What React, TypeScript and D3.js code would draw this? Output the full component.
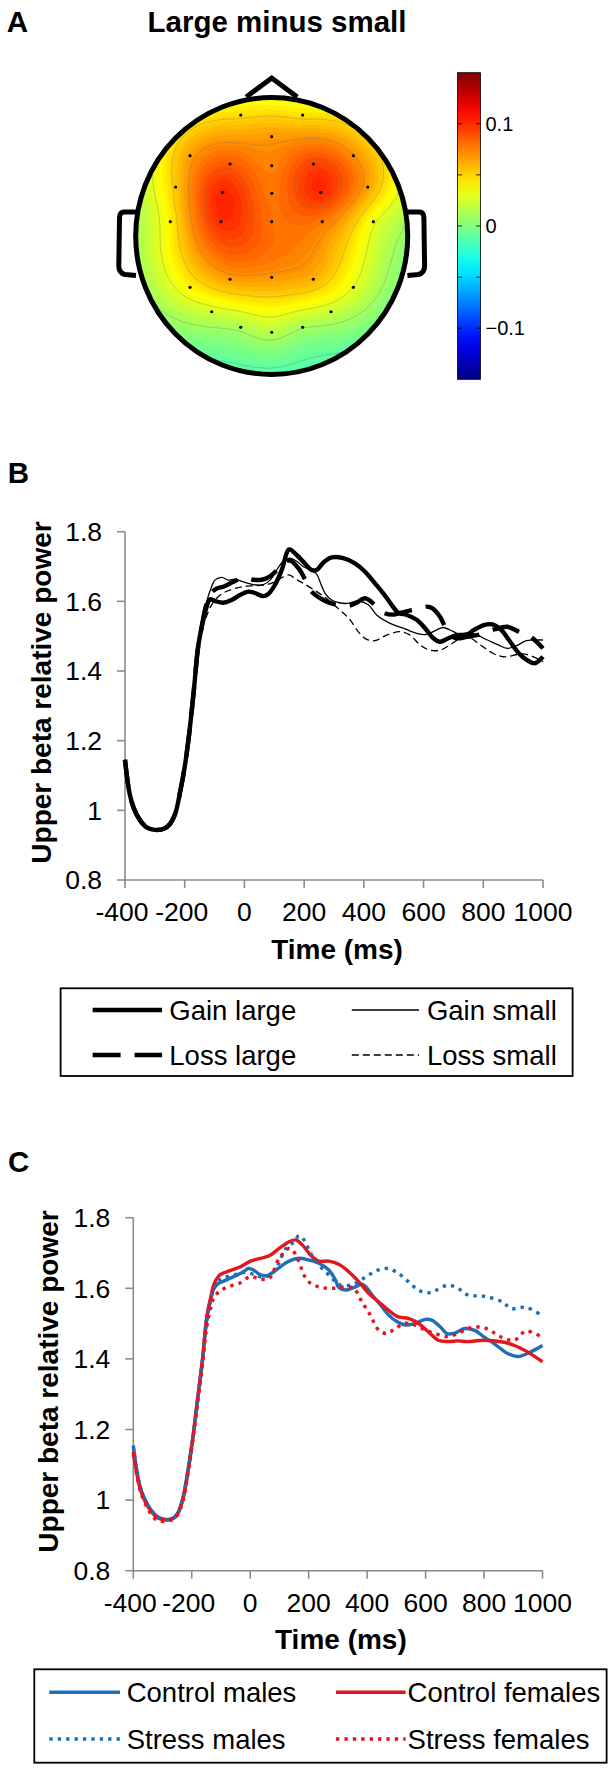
import React, { useMemo } from 'react';
import * as d3 from 'd3';

const FONT = "'Liberation Sans', Arial, Helvetica, sans-serif";

// ---------------- Panel A: topographic map data ----------------
// electrode positions in normalised head coordinates (x: left→right, y: front→back)
const elecNX = [-0.226, 0.226, 0, -0.596, 0.596, -0.304, 0, 0.304, -0.701, -0.358, 0, 0.358, 0.701,
  -0.74, -0.37, 0, 0.369, 0.742, -0.304, 0, 0.304, -0.596, 0.596, -0.438, 0.433, -0.226, 0, 0.226];
const elecNY = [-0.867, -0.867, -0.712, -0.576, -0.576, -0.516, -0.504, -0.516, -0.351, -0.313, -0.306, -0.313, -0.351,
  -0.103, -0.103, -0.103, -0.103, -0.103, 0.31, 0.296, 0.31, 0.368, 0.368, 0.543, 0.543, 0.654, 0.69, 0.654];
const elecVal = [0.046, 0.045, 0.066, 0.064, 0.07, 0.085, 0.074, 0.092, 0.052, 0.101, 0.078, 0.101, 0.066,
  0.04, 0.099, 0.08, 0.078, 0.034, 0.066, 0.068, 0.061, 0.04, 0.031, 0.025, 0.023, 0.014, 0.018, 0.012];
const cbarDomain = [-0.15, 0.15];
const cbarTicks = [0.1, 0, -0.1];
const cbarMinorTicks = [0.1, 0.05, 0, -0.05, -0.1];
const isoLevels = [-0.01, 0.01, 0.03, 0.05, 0.07, 0.09];

// ---------------- Panel B: reward magnitude ----------------
const gainLarge: [number, number][] = [[-400, 1.145], [-385, 1.05], [-370, 1.005], [-350, 0.972], [-325, 0.95], [-300, 0.944], [-270, 0.947], [-250, 0.96], [-232, 0.99], [-216, 1.05], [-200, 1.125], [-185, 1.22], [-170, 1.34], [-155, 1.47], [-143, 1.527], [-128, 1.58], [-115, 1.606], [-98, 1.601], [-71, 1.596], [-43, 1.604], [-15, 1.618], [13, 1.628], [35, 1.624], [63, 1.615], [80, 1.621], [102, 1.647], [125, 1.69], [150, 1.749], [175, 1.733], [197, 1.714], [225, 1.69], [242, 1.69], [264, 1.711], [292, 1.726], [331, 1.724], [370, 1.709], [404, 1.685], [437, 1.652], [465, 1.623], [493, 1.59], [515, 1.567], [544, 1.561], [577, 1.547], [605, 1.523], [633, 1.494], [655, 1.484], [683, 1.494], [711, 1.503], [745, 1.505], [769, 1.518], [802, 1.532], [830, 1.534], [860, 1.518], [886, 1.489], [919, 1.451], [945, 1.432], [971, 1.422], [1000, 1.441]];
const gainSmall: [number, number][] = [[-400, 1.145], [-385, 1.05], [-370, 1.005], [-350, 0.972], [-325, 0.95], [-300, 0.944], [-270, 0.947], [-250, 0.96], [-232, 0.99], [-216, 1.05], [-200, 1.125], [-185, 1.22], [-170, 1.34], [-155, 1.47], [-143, 1.53], [-128, 1.595], [-110, 1.642], [-99, 1.661], [-76, 1.669], [-54, 1.661], [-32, 1.664], [-4, 1.656], [30, 1.648], [63, 1.648], [86, 1.661], [108, 1.69], [130, 1.715], [153, 1.724], [175, 1.715], [197, 1.7], [225, 1.688], [242, 1.678], [256, 1.65], [270, 1.623], [292, 1.604], [318, 1.596], [343, 1.594], [382, 1.601], [415, 1.59], [443, 1.561], [488, 1.537], [532, 1.523], [577, 1.508], [611, 1.505], [644, 1.518], [666, 1.525], [700, 1.513], [728, 1.503], [762, 1.508], [814, 1.489], [850, 1.475], [880, 1.465], [910, 1.472], [945, 1.487], [1000, 1.489]];
const lossLarge: [number, number][] = [[-400, 1.145], [-385, 1.05], [-370, 1.005], [-350, 0.972], [-325, 0.95], [-300, 0.944], [-270, 0.947], [-250, 0.96], [-232, 0.99], [-216, 1.05], [-200, 1.125], [-185, 1.22], [-170, 1.34], [-155, 1.47], [-143, 1.527], [-128, 1.59], [-110, 1.625], [-90, 1.638], [-71, 1.642], [-37, 1.656], [-4, 1.668], [30, 1.662], [57, 1.662], [86, 1.672], [122, 1.7], [150, 1.718], [181, 1.695], [205, 1.66], [225, 1.628], [264, 1.604], [300, 1.592], [348, 1.587], [375, 1.596], [404, 1.609], [440, 1.588], [471, 1.566], [500, 1.562], [521, 1.567], [560, 1.575], [611, 1.585], [630, 1.58], [655, 1.556], [684, 1.508], [711, 1.494], [745, 1.498], [790, 1.505], [840, 1.52], [880, 1.527], [919, 1.513], [958, 1.499], [1000, 1.465]];
const lossSmall: [number, number][] = [[-400, 1.145], [-385, 1.05], [-370, 1.005], [-350, 0.972], [-325, 0.95], [-300, 0.944], [-270, 0.947], [-250, 0.96], [-232, 0.99], [-216, 1.05], [-200, 1.125], [-185, 1.22], [-170, 1.34], [-155, 1.46], [-143, 1.52], [-128, 1.555], [-113, 1.585], [-93, 1.609], [-73, 1.623], [-40, 1.635], [-8, 1.642], [30, 1.645], [70, 1.647], [100, 1.655], [125, 1.668], [149, 1.676], [175, 1.662], [197, 1.652], [242, 1.628], [281, 1.604], [320, 1.575], [354, 1.547], [381, 1.513], [410, 1.491], [437, 1.487], [476, 1.503], [521, 1.513], [555, 1.503], [588, 1.475], [621, 1.46], [655, 1.46], [688, 1.475], [716, 1.49], [749, 1.497], [790, 1.475], [830, 1.452], [867, 1.441], [932, 1.449], [970, 1.44], [1000, 1.427]];

// ---------------- Panel C: stress x sex ----------------
const controlMales: [number, number][] = [[-400, 1.155], [-379, 1.045], [-362, 1.005], [-339, 0.972], [-317, 0.953], [-294, 0.946], [-266, 0.948], [-249, 0.962], [-231, 1.005], [-214, 1.08], [-197, 1.175], [-180, 1.288], [-163, 1.401], [-149, 1.515], [-135, 1.571], [-124, 1.6], [-107, 1.615], [-95, 1.619], [-57, 1.633], [-23, 1.647], [-6, 1.656], [11, 1.652], [35, 1.638], [58, 1.636], [81, 1.647], [103, 1.661], [133, 1.677], [167, 1.685], [201, 1.68], [235, 1.671], [269, 1.652], [292, 1.623], [303, 1.602], [326, 1.595], [360, 1.604], [380, 1.612], [394, 1.606], [417, 1.581], [446, 1.553], [474, 1.524], [503, 1.505], [531, 1.496], [565, 1.501], [599, 1.512], [621, 1.51], [650, 1.491], [673, 1.472], [696, 1.472], [735, 1.486], [770, 1.48], [797, 1.464], [840, 1.44], [877, 1.417], [917, 1.407], [957, 1.419], [1000, 1.438]];
const controlFemales: [number, number][] = [[-400, 1.137], [-379, 1.04], [-362, 1.0], [-339, 0.968], [-317, 0.95], [-294, 0.944], [-266, 0.947], [-249, 0.96], [-231, 1.0], [-214, 1.075], [-197, 1.17], [-180, 1.285], [-163, 1.4], [-149, 1.515], [-135, 1.575], [-124, 1.612], [-107, 1.636], [-95, 1.642], [-67, 1.651], [-33, 1.661], [1, 1.677], [35, 1.685], [65, 1.692], [99, 1.713], [133, 1.732], [156, 1.737], [178, 1.723], [212, 1.689], [235, 1.677], [269, 1.677], [303, 1.668], [337, 1.647], [371, 1.619], [405, 1.586], [439, 1.562], [473, 1.538], [507, 1.519], [541, 1.515], [575, 1.501], [609, 1.477], [643, 1.453], [677, 1.449], [711, 1.451], [745, 1.449], [797, 1.453], [864, 1.448], [904, 1.438], [944, 1.422], [1000, 1.392]];
const stressMales: [number, number][] = [[-400, 1.15], [-379, 1.045], [-362, 1.003], [-339, 0.97], [-317, 0.952], [-294, 0.945], [-266, 0.947], [-249, 0.96], [-231, 1.0], [-214, 1.075], [-197, 1.17], [-180, 1.28], [-163, 1.395], [-149, 1.505], [-135, 1.565], [-124, 1.6], [-107, 1.622], [-90, 1.63], [-57, 1.638], [-23, 1.645], [11, 1.64], [46, 1.63], [65, 1.637], [81, 1.647], [100, 1.675], [122, 1.713], [150, 1.732], [167, 1.749], [184, 1.737], [207, 1.699], [235, 1.666], [264, 1.642], [286, 1.623], [309, 1.609], [343, 1.609], [371, 1.619], [405, 1.638], [439, 1.652], [473, 1.656], [507, 1.642], [541, 1.619], [575, 1.595], [609, 1.587], [637, 1.595], [677, 1.609], [711, 1.6], [745, 1.581], [804, 1.577], [864, 1.561], [891, 1.543], [944, 1.546], [1000, 1.522]];
const stressFemales: [number, number][] = [[-400, 1.13], [-379, 1.035], [-362, 0.995], [-339, 0.96], [-317, 0.942], [-294, 0.94], [-266, 0.945], [-249, 0.958], [-231, 0.995], [-214, 1.07], [-197, 1.165], [-180, 1.275], [-163, 1.385], [-149, 1.49], [-135, 1.545], [-124, 1.575], [-107, 1.59], [-78, 1.604], [-38, 1.614], [1, 1.633], [35, 1.626], [65, 1.628], [99, 1.685], [133, 1.713], [145, 1.708], [167, 1.675], [184, 1.637], [207, 1.614], [246, 1.602], [286, 1.6], [326, 1.604], [354, 1.6], [382, 1.562], [411, 1.524], [439, 1.482], [468, 1.472], [496, 1.486], [530, 1.501], [564, 1.496], [598, 1.482], [632, 1.472], [672, 1.463], [711, 1.472], [745, 1.486], [797, 1.489], [864, 1.46], [904, 1.453], [944, 1.479], [1000, 1.46]];

const timeTicks = [-400, -200, 0, 200, 400, 600, 800, 1000];
const powerTicks = [0.8, 1, 1.2, 1.4, 1.6, 1.8];

const seriesB = [
  { name: 'Gain large', data: gainLarge, color: '#000', width: 4.4, dash: '' },
  { name: 'Gain small', data: gainSmall, color: '#000', width: 1.3, dash: '' },
  { name: 'Loss large', data: lossLarge, color: '#000', width: 4.4, dash: '28,14' },
  { name: 'Loss small', data: lossSmall, color: '#000', width: 1.3, dash: '7,4' },
];
const BLUE = '#1f6fb6';
const RED = '#e5151c';
const seriesC = [
  { name: 'Control males', data: controlMales, color: BLUE, width: 3.4, dash: '' },
  { name: 'Control females', data: controlFemales, color: RED, width: 3.4, dash: '' },
  { name: 'Stress males', data: stressMales, color: BLUE, width: 3.4, dash: '3.4,5' },
  { name: 'Stress females', data: stressFemales, color: RED, width: 3.4, dash: '3.4,5' },
];

function jet(t: number) {
  const c = (v: number) => Math.max(0, Math.min(1, v));
  const r = c(1.5 - Math.abs(4 * t - 3));
  const g = c(1.5 - Math.abs(4 * t - 2));
  const b = c(1.5 - Math.abs(4 * t - 1));
  return d3.rgb(r * 255, g * 255, b * 255).formatHex();
}

function solve(A: number[][], b: number[]) {
  const n = b.length;
  const M = A.map((row, i) => [...row, b[i]]);
  for (let k = 0; k < n; k++) {
    let p = k;
    for (let i = k + 1; i < n; i++) if (Math.abs(M[i][k]) > Math.abs(M[p][k])) p = i;
    [M[k], M[p]] = [M[p], M[k]];
    for (let i = k + 1; i < n; i++) {
      const f = M[i][k] / M[k][k];
      for (let j = k; j <= n; j++) M[i][j] -= f * M[k][j];
    }
  }
  const x = new Array(n).fill(0);
  for (let i = n - 1; i >= 0; i--) {
    let s = M[i][n];
    for (let j = i + 1; j < n; j++) s -= M[i][j] * x[j];
    x[i] = s / M[i][i];
  }
  return x;
}

function Topo() {
  const cx = 271.7, cy = 236, rx = 136, ry = 138.5, nR = 137, nRy = 139.5;
  const step = 2;
  const gx0 = cx - 140, gy0 = cy - 142;
  const nx = 140, ny = 142;
  const { fills, isos } = useMemo(() => {
    const green = (d: number) => (d === 0 ? 0 : d * d * (Math.log(d) - 1));
    const n = elecVal.length;
    const G = elecNX.map((_, i) => elecNX.map((__, j) => green(Math.hypot(elecNX[i] - elecNX[j], elecNY[i] - elecNY[j]))));
    const w = solve(G, elecVal);
    const values = new Array(nx * ny);
    for (let j = 0; j < ny; j++) {
      for (let i = 0; i < nx; i++) {
        const u = (gx0 + (i + 0.5) * step - cx) / nR;
        const v = (gy0 + (j + 0.5) * step - cy) / nRy;
        let s = 0;
        for (let k = 0; k < n; k++) s += w[k] * green(Math.hypot(u - elecNX[k], v - elecNY[k]));
        values[j * nx + i] = s;
      }
    }
    const lvStep = 0.004;
    const levels = d3.range(-0.2, 0.2, lvStep);
    const path = d3.geoPath();
    const fills = d3.contours().size([nx, ny]).thresholds(levels)(values).map((c) => ({
      d: path(c as any) || '',
      color: jet((c.value + lvStep / 2 - cbarDomain[0]) / (cbarDomain[1] - cbarDomain[0])),
    }));
    const isos = d3.contours().size([nx, ny]).thresholds(isoLevels)(values).map((c) => path(c as any) || '');
    return { fills, isos };
  }, []);
  const cbX = 457.5, cbW = 23;
  const cbar = d3.scaleLinear().domain(cbarDomain).range([379.3, 72.7]);
  const ear = (s: number) => {
    const X = (x: number) => (s < 0 ? x : 2 * cx - x);
    return `M${X(136)},212 L${X(124)},212 Q${X(119.5)},212 ${X(119.5)},218 L${X(118.8)},266 Q${X(118.8)},273 ${X(125)},274.5 L${X(136)},275.5`;
  };
  const gradStops = d3.range(0, 1.0001, 0.05);
  return (
    <g>
      <defs>
        <clipPath id="headClip">
          <ellipse cx={cx} cy={cy} rx={rx} ry={ry} />
        </clipPath>
        <linearGradient id="jetGrad" x1="0" y1="1" x2="0" y2="0">
          {gradStops.map((t) => (
            <stop key={t} offset={t} stopColor={jet(t)} />
          ))}
        </linearGradient>
      </defs>
      <g clipPath="url(#headClip)">
        <rect x={gx0} y={gy0} width={nx * step} height={ny * step} fill={jet(0)} />
        <g transform={`translate(${gx0 - step / 2},${gy0 - step / 2}) scale(${step})`}>
          {fills.map((f, i) => (
            <path key={i} d={f.d} fill={f.color} stroke={f.color} strokeWidth={0.3} />
          ))}
          {isos.map((d, i) => (
            <path key={'i' + i} d={d} fill="none" stroke="#6b6b6b" strokeOpacity={0.5} strokeWidth={0.6} vectorEffect="non-scaling-stroke" />
          ))}
        </g>
      </g>
      {elecNX.map((x, i) => (
        <circle key={i} cx={cx + x * nR} cy={cy + elecNY[i] * nRy} r={1.6} fill="#000" />
      ))}
      <path d={ear(-1)} fill="none" stroke="#000" strokeWidth={5} strokeLinejoin="round" />
      <path d={ear(1)} fill="none" stroke="#000" strokeWidth={5} strokeLinejoin="round" />
      <path d={`M${cx - 25.5},97 L${cx},78 L${cx + 25.5},97`} fill="none" stroke="#000" strokeWidth={5} />
      <ellipse cx={cx} cy={cy} rx={rx} ry={ry} fill="none" stroke="#000" strokeWidth={5} />
      {/* colour bar */}
      <rect x={cbX} y={72.7} width={cbW} height={306.6} fill="url(#jetGrad)" stroke="#000" strokeWidth={0.8} />
      {cbarMinorTicks.map((t) => (
        <g key={t}>
          <line x1={cbX + cbW} x2={cbX + cbW - 4.5} y1={cbar(t)} y2={cbar(t)} stroke="#000" strokeWidth={0.8} />
          <line x1={cbX} x2={cbX + 4.5} y1={cbar(t)} y2={cbar(t)} stroke="#000" strokeWidth={0.8} />
        </g>
      ))}
      {cbarTicks.map((t) => (
        <text key={t} x={cbX + cbW + 5} y={cbar(t) + 7} fontSize={20} fontFamily={FONT}>
          {t < 0 ? '\u2212' + String(-t) : String(t)}
        </text>
      ))}
    </g>
  );
}

type Series = { name: string; data: [number, number][]; color: string; width: number; dash: string };

function LinePanel(props: {
  series: Series[]; xr: [number, number]; yr: [number, number]; titleX: number; titleCy: number;
  legend: { x: number; y: number; w: number; h: number; rows: number[]; cols: { lx0: number; lx1: number; tx: number }[] };
}) {
  const { series, xr, yr, titleX, titleCy, legend } = props;
  const x = d3.scaleLinear().domain([-400, 1000]).range(xr);
  const y = d3.scaleLinear().domain([0.8, 1.8]).range(yr);
  const line = d3.line<[number, number]>().x((d) => x(d[0])).y((d) => y(d[1])).curve(d3.curveCatmullRom.alpha(0.5));
  const axisColor = '#8c8c8c';
  return (
    <g fontFamily={FONT}>
      <line x1={xr[0]} x2={xr[0]} y1={yr[1]} y2={yr[0]} stroke={axisColor} strokeWidth={1.6} />
      <line x1={xr[0]} x2={xr[1]} y1={yr[0]} y2={yr[0]} stroke={axisColor} strokeWidth={1.6} />
      {powerTicks.map((t) => (
        <g key={t}>
          <line x1={xr[0] - 8} x2={xr[0]} y1={y(t)} y2={y(t)} stroke={axisColor} strokeWidth={1.6} />
          <text x={xr[0] - 23} y={y(t) + 9.3} fontSize={26.5} textAnchor="end">{String(t)}</text>
        </g>
      ))}
      {timeTicks.map((t) => (
        <g key={t}>
          <line x1={x(t)} x2={x(t)} y1={yr[0]} y2={yr[0] + 8} stroke={axisColor} strokeWidth={1.6} />
          <text x={x(t) - (t < 0 ? 3 : 0)} y={yr[0] + 41} fontSize={26.5} textAnchor="middle">{String(t)}</text>
        </g>
      ))}
      <text x={(xr[0] + xr[1]) / 2 + 3} y={yr[0] + 78.5} fontSize={28} fontWeight="bold" textAnchor="middle">Time (ms)</text>
      <text transform={`translate(${titleX},${titleCy}) rotate(-90)`} fontSize={28} fontWeight="bold" textAnchor="middle">
        Upper beta relative power
      </text>
      {series.map((s) => (
        <path key={s.name} d={line(s.data) || ''} fill="none" stroke={s.color} strokeWidth={s.width}
          strokeDasharray={s.dash || undefined} strokeLinejoin="round" />
      ))}
      <rect x={legend.x} y={legend.y} width={legend.w} height={legend.h} fill="none" stroke="#000" strokeWidth={1.8} />
      {series.map((s, i) => {
        const row = legend.rows[Math.floor(i / 2)];
        const col = legend.cols[i % 2];
        return (
          <g key={'lg' + s.name}>
            <line x1={col.lx0} x2={col.lx1} y1={row} y2={row} stroke={s.color} strokeWidth={s.width}
              strokeDasharray={s.dash || undefined} />
            <text x={col.tx} y={row + 9.8} fontSize={27.5}>{s.name}</text>
          </g>
        );
      })}
    </g>
  );
}

export default function App() {
  return (
    <svg width={613} height={1770} viewBox="0 0 613 1770" style={{ position: 'absolute', left: 0, top: 0, background: '#fff' }}
      xmlns="http://www.w3.org/2000/svg">
      <rect width={613} height={1770} fill="#fff" />
      <text x={6.7} y={31.7} fontSize={29.5} fontWeight="bold" fontFamily={FONT}>A</text>
      <text x={277} y={31.7} fontSize={29.5} fontWeight="bold" fontFamily={FONT} textAnchor="middle">Large minus small</text>
      <Topo />
      <text x={7.8} y={483.3} fontSize={29.5} fontWeight="bold" fontFamily={FONT}>B</text>
      <LinePanel series={seriesB} xr={[125, 543]} yr={[880, 531.7]} titleX={50.8} titleCy={692.5}
        legend={{ x: 60.6, y: 988.3, w: 512, h: 87.7, rows: [1010, 1055], cols: [{ lx0: 92.6, lx1: 162.1, tx: 169.3 }, { lx0: 351.8, lx1: 419, tx: 426.9 }] }} />
      <text x={8} y={1171.7} fontSize={29.5} fontWeight="bold" fontFamily={FONT}>C</text>
      <LinePanel series={seriesC} xr={[133.3, 542.5]} yr={[1570.7, 1217.7]} titleX={58.3} titleCy={1381.5}
        legend={{ x: 34.3, y: 1669.3, w: 572.3, h: 93.4, rows: [1692.3, 1739], cols: [{ lx0: 49.3, lx1: 120, tx: 126.7 }, { lx0: 336, lx1: 405.6, tx: 407.6 }] }} />
    </svg>
  );
}
